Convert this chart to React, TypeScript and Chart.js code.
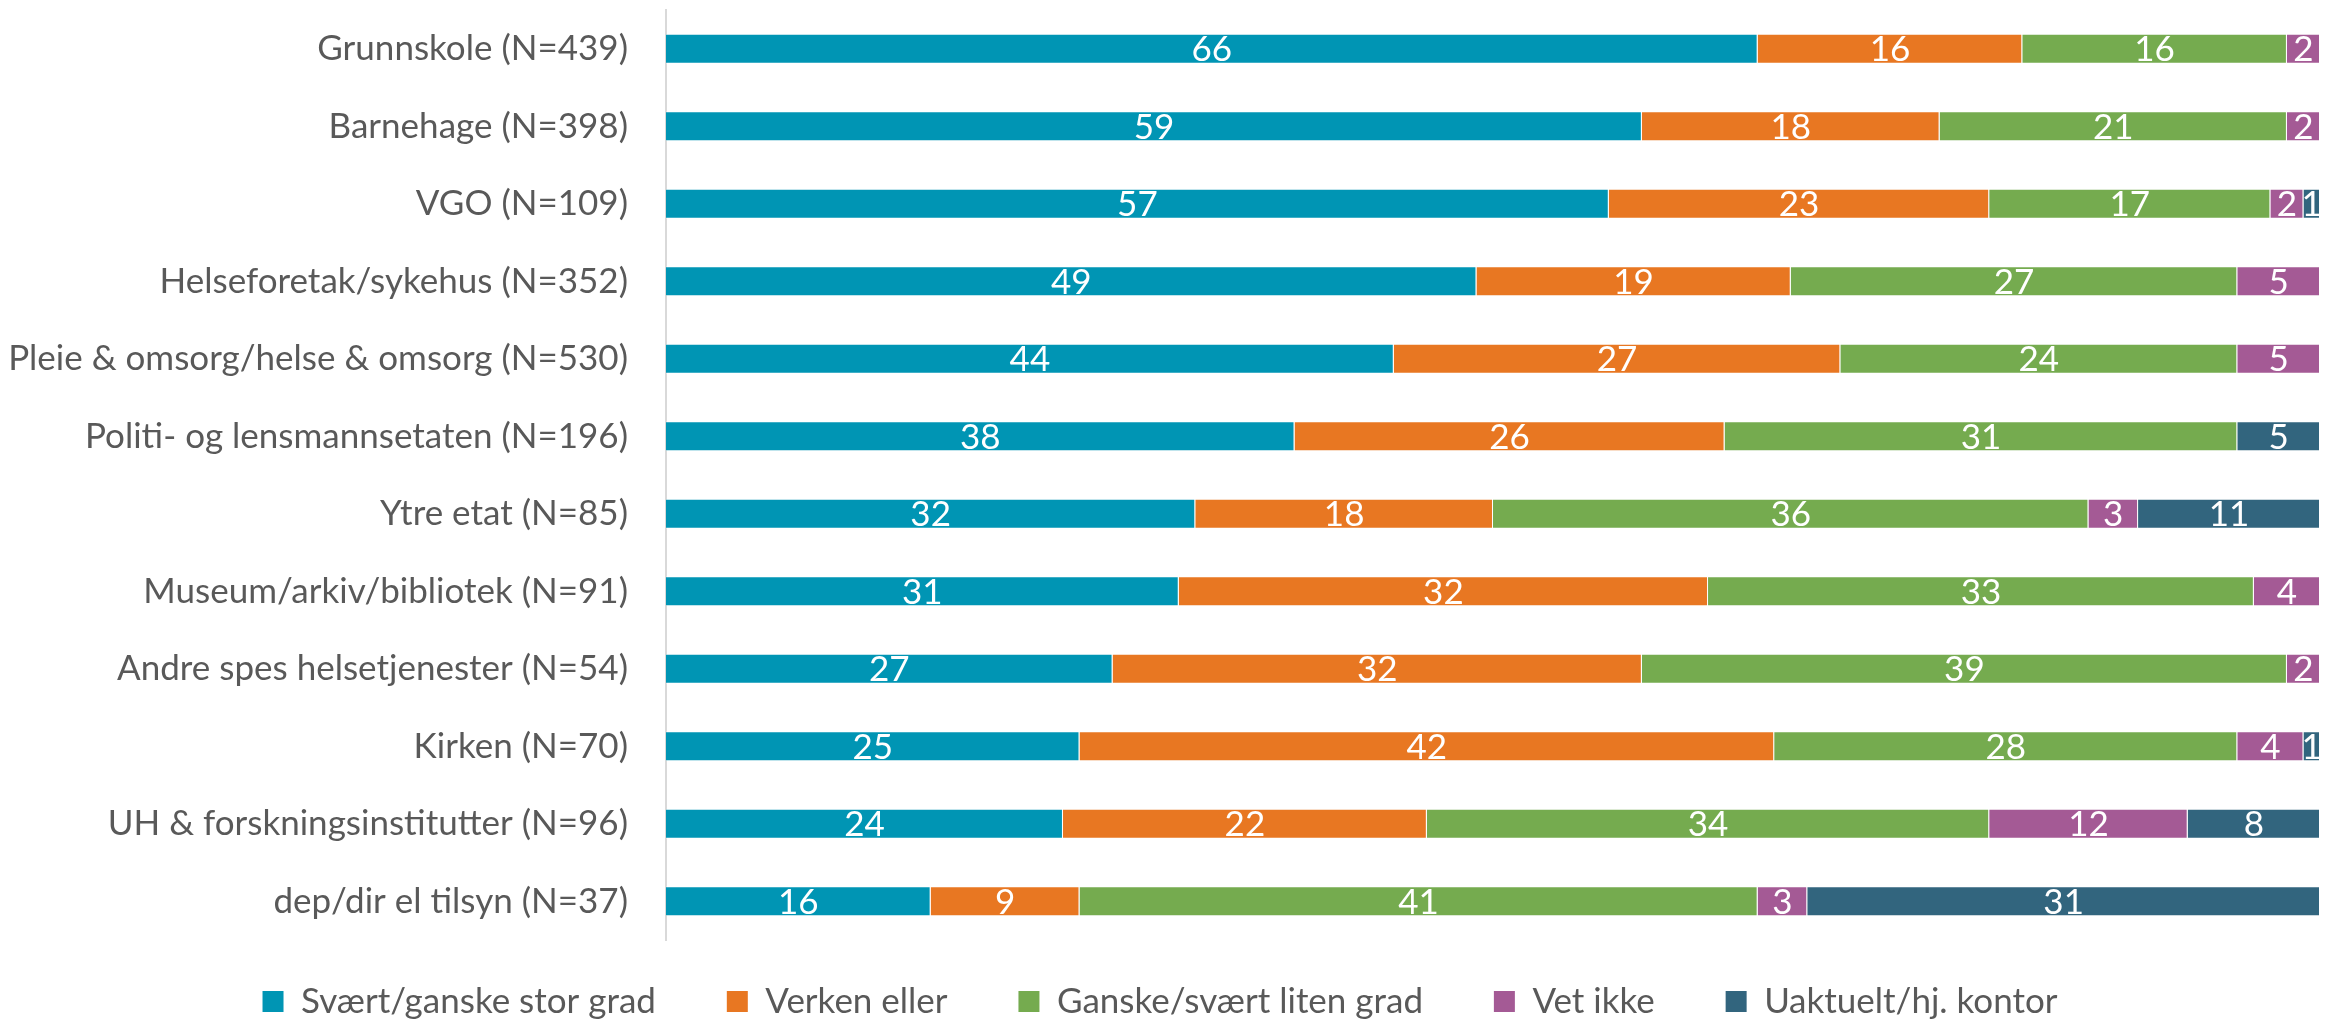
import React, { useEffect, useRef } from 'react';
import { Chart, registerables } from 'chart.js';

Chart.register(...registerables);

const categories = [
  'Grunnskole (N=439)',
  'Barnehage (N=398)',
  'VGO (N=109)',
  'Helseforetak/sykehus (N=352)',
  'Pleie & omsorg/helse & omsorg (N=530)',
  'Politi- og lensmannsetaten (N=196)',
  'Ytre etat (N=85)',
  'Museum/arkiv/bibliotek (N=91)',
  'Andre spes helsetjenester (N=54)',
  'Kirken (N=70)',
  'UH & forskningsinstitutter (N=96)',
  'dep/dir el tilsyn (N=37)',
];

const seriesNames = [
  'Svært/ganske stor grad',
  'Verken eller',
  'Ganske/svært liten grad',
  'Vet ikke',
  'Uaktuelt/hj. kontor',
];

const storGrad = [66, 59, 57, 49, 44, 38, 32, 31, 27, 25, 24, 16];
const verkenEller = [16, 18, 23, 19, 27, 26, 18, 32, 32, 42, 22, 9];
const litenGrad = [16, 21, 17, 27, 24, 31, 36, 33, 39, 28, 34, 41];
const vetIkke = [2, 2, 2, 5, 5, 0, 3, 4, 2, 4, 12, 3];
const uaktuelt = [0, 0, 1, 0, 0, 5, 11, 0, 0, 1, 8, 31];

const seriesColors = ['#0095B4', '#E87722', '#75AB4F', '#A45A95', '#32657E'];

const FONT_FAMILY = 'Lato, "Noto Sans", sans-serif';
const FONT_SIZE = 35;
const TEXT_COLOR = '#595959';

const valueLabels = {
  id: 'valueLabels',
  afterDatasetsDraw(chart: any) {
    const ctx = chart.ctx;
    ctx.save();
    ctx.font = `${FONT_SIZE}px ${FONT_FAMILY}`;
    ctx.fillStyle = '#ffffff';
    ctx.textAlign = 'center';
    ctx.textBaseline = 'middle';
    chart.data.datasets.forEach((ds: any, di: number) => {
      const meta = chart.getDatasetMeta(di);
      meta.data.forEach((el: any, i: number) => {
        const v = ds.data[i];
        if (!v) return;
        const cx = (el.x + el.base) / 2;
        ctx.fillText(String(v), cx, el.y + 1);
      });
    });
    ctx.restore();
  },
};

export default function App() {
  const ref = useRef<HTMLCanvasElement | null>(null);

  useEffect(() => {
    document.body.style.margin = '0';
    const canvas = ref.current;
    if (!canvas) return;
    const allData = [storGrad, verkenEller, litenGrad, vetIkke, uaktuelt];
    const chart = new Chart(canvas, {
      type: 'bar',
      data: {
        labels: categories,
        datasets: seriesNames.map((name, i) => ({
          label: name,
          data: allData[i],
          backgroundColor: seriesColors[i],
          borderColor: 'rgba(255,255,255,0.45)',
          borderWidth: 1,
          categoryPercentage: 1,
          barPercentage: 0.39,
        })),
      },
      options: {
        indexAxis: 'y',
        responsive: false,
        animation: false,
        layout: { padding: { top: 10, right: 6, bottom: -8, left: 0 } },
        scales: {
          x: {
            stacked: true,
            min: 0,
            max: 100,
            display: false,
          },
          y: {
            stacked: true,
            grid: { display: false, drawTicks: false },
            border: { display: true, color: '#D9D9D9', width: 2 },
            ticks: {
              color: TEXT_COLOR,
              padding: 38,
              font: { family: FONT_FAMILY, size: FONT_SIZE },
            },
            afterFit(scale: any) {
              scale.width = 666;
              scale.paddingTop = 0;
              scale.paddingBottom = 0;
            },
          },
        },
        plugins: {
          tooltip: { enabled: false },
          legend: {
            position: 'bottom',
            labels: {
              color: TEXT_COLOR,
              boxWidth: 21,
              boxHeight: 21,
              padding: 44,
              font: { family: FONT_FAMILY, size: FONT_SIZE },
              generateLabels(ch: any) {
                return ch.data.datasets.map((ds: any, i: number) => ({
                  text: i < ch.data.datasets.length - 1 ? ds.label + '   ' : ds.label,
                  fillStyle: ds.backgroundColor,
                  strokeStyle: ds.backgroundColor,
                  lineWidth: 0,
                  fontColor: TEXT_COLOR,
                  hidden: false,
                  datasetIndex: i,
                }));
              },
            },
          },
        },
      },
      plugins: [valueLabels],
    });
    return () => chart.destroy();
  }, []);

  return (
    <div style={{ width: 2326, height: 1021 }}>
      <canvas ref={ref} width={2326} height={1021} style={{ display: 'block' }} />
    </div>
  );
}
